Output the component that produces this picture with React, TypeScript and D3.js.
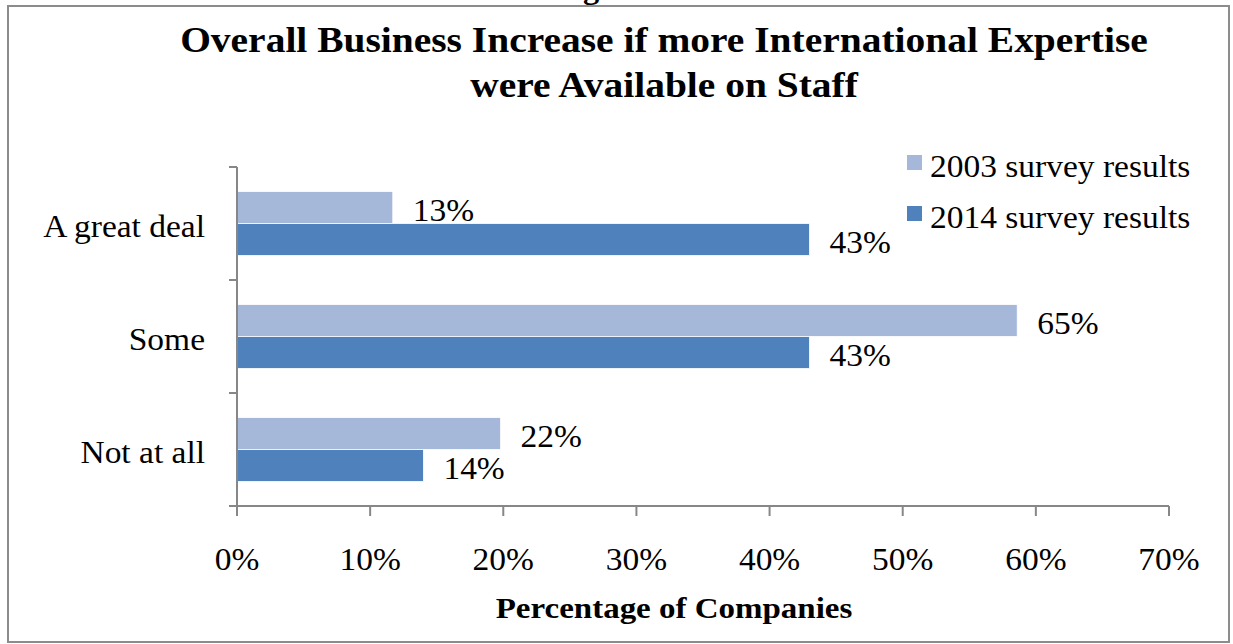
import React from "react";
import * as d3 from "d3";

const categories = ["A great deal", "Some", "Not at all"];
const seriesNames = ["2003 survey results", "2014 survey results"];
const values2003 = [11.7, 58.6, 19.8];
const values2014 = [43.0, 43.0, 14.0];
const labels2003 = ["13%", "65%", "22%"];
const labels2014 = ["43%", "43%", "14%"];
const xTicks = [0, 10, 20, 30, 40, 50, 60, 70];
const titleLines = [
  "Overall Business Increase if more International Expertise",
  "were Available on Staff",
];
const xAxisTitle = "Percentage of Companies";

const W = 1233;
const H = 644;
const FONT = "'Liberation Serif', 'Times New Roman', serif";
const COLORS = ["#A5B8DA", "#4F81BD"];
const AXIS = "#878787";
const SX = 1.08;

function T(props: {
  x: number;
  y: number;
  size: number;
  anchor?: string;
  bold?: boolean;
  sx?: number;
  children: React.ReactNode;
}) {
  const { x, y, size, anchor = "start", bold = false, sx = SX, children } = props;
  return (
    <text
      transform={`translate(${x},${y}) scale(${sx},1)`}
      fontSize={size}
      fontWeight={bold ? "bold" : "normal"}
      textAnchor={anchor}
      fill="#000"
    >
      {children}
    </text>
  );
}

export default function App() {
  const x = d3.scaleLinear().domain([0, 70]).range([237, 1169]);
  const y = d3.scaleBand<string>().domain(categories).range([167, 506]).padding(0);
  const barH = 32;
  const series = [
    { vals: values2003, labels: labels2003 },
    { vals: values2014, labels: labels2014 },
  ];
  const bandTicks = [...categories.map((c) => y(c) as number), 506];

  return (
    <svg
      width={W}
      height={H}
      style={{ position: "absolute", left: 0, top: 0, background: "#fff" }}
      fontFamily={FONT}
    >
      <rect x={0} y={0} width={W} height={H} fill="#fff" />
      <T x={612} y={-1} size={30} bold anchor="middle">
        Figure 5
      </T>
      <rect x={8} y={6} width={1221} height={636} fill="none" stroke="#8c8c8c" strokeWidth={2} />

      {titleLines.map((t, i) => (
        <T key={t} x={664} y={52 + i * 45} size={36} bold anchor="middle" sx={1.097}>
          {t}
        </T>
      ))}

      {/* bars */}
      {series.map((s, si) =>
        categories.map((c, ci) => {
          const center = (y(c) as number) + y.bandwidth() / 2;
          const top = center - barH + si * barH;
          return (
            <g key={`${si}-${ci}`}>
              <rect
                x={x(0)}
                y={top}
                width={x(s.vals[ci]) - x(0)}
                height={barH}
                fill={COLORS[si]}
                stroke="#ffffff"
                strokeWidth={0.8}
              />
              <T x={x(s.vals[ci]) + 20} y={top + barH - 3} size={31}>
                {s.labels[ci]}
              </T>
            </g>
          );
        })
      )}

      {/* y axis */}
      <line x1={x(0)} x2={x(0)} y1={167} y2={506} stroke={AXIS} strokeWidth={2} />
      {bandTicks.map((t, i) => (
        <line key={i} x1={x(0) - 8} x2={x(0)} y1={t} y2={t} stroke={AXIS} strokeWidth={2} />
      ))}
      {categories.map((c) => (
        <T key={c} x={205} y={(y(c) as number) + y.bandwidth() / 2 + 13} size={31} anchor="end">
          {c}
        </T>
      ))}

      {/* x axis */}
      <line x1={x(0)} x2={x(70)} y1={506} y2={506} stroke={AXIS} strokeWidth={2} />
      {xTicks.map((t) => (
        <g key={t}>
          <line x1={x(t)} x2={x(t)} y1={506} y2={516} stroke={AXIS} strokeWidth={2} />
          <T x={x(t)} y={570} size={31} anchor="middle">
            {`${t}%`}
          </T>
        </g>
      ))}
      <T x={674} y={618} size={30} bold anchor="middle" sx={1.1}>
        {xAxisTitle}
      </T>

      {/* legend */}
      {seriesNames.map((n, i) => (
        <g key={n}>
          <rect x={907} y={155 + i * 51} width={15} height={15} fill={COLORS[i]} />
          <T x={930} y={177 + i * 51} size={31}>
            {n}
          </T>
        </g>
      ))}
    </svg>
  );
}
